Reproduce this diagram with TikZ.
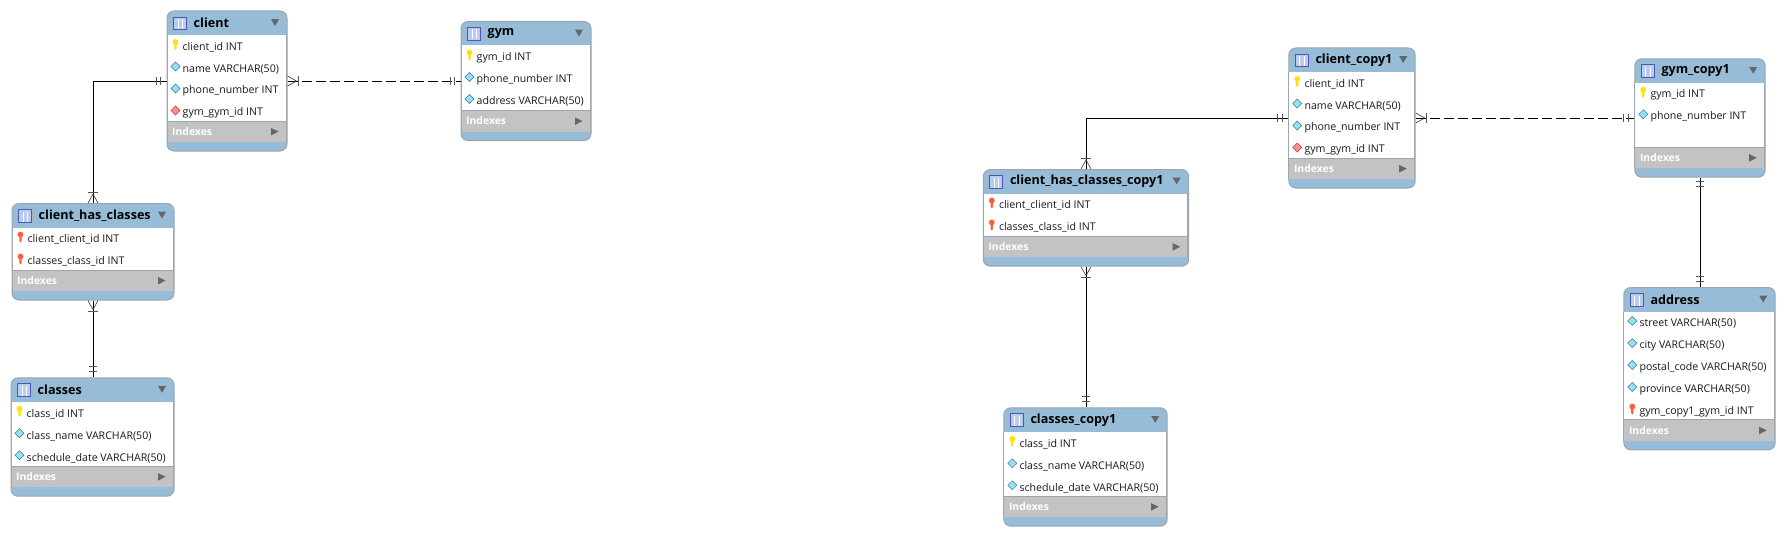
\documentclass[tikz,border=0pt]{standalone}
\usepackage{fontspec}
\setmainfont{Open Sans}
\usetikzlibrary{decorations.markings}
\definecolor{headblue}{HTML}{97BCD8}
\definecolor{bandgray}{HTML}{C3C3C3}
\definecolor{edgegray}{HTML}{9CA6AE}
\definecolor{markgray}{HTML}{555555}
\definecolor{iconblue}{HTML}{B9CBEE}
\definecolor{iconedge}{HTML}{4A58B0}
\tikzset{
    x=1pt, y=-1pt,
    tablebox/.style={draw=edgegray, line width=1pt, fill=headblue, rounded corners=7pt, inner sep=0pt},
    titletext/.style={anchor=west, inner sep=0pt, font=\fontsize{12.6}{14}\selectfont\bfseries, text=black},
    rowtext/.style={anchor=west, inner sep=0pt, font=\fontsize{10.6}{12}\selectfont, text=black!90},
    idxtext/.style={anchor=west, inner sep=0pt, font=\fontsize{10.4}{12}\selectfont\bfseries, text=white},
    pkey/.pic={
        \fill[yellow!85!orange] (0,-2.5) circle (2.9);
        \fill[yellow!85!orange] (-1.1,-2) -- (-1.1,4) -- (0,5.5) -- (1.1,4) -- (1.1,-2) -- cycle;
    },
    fkey/.pic={
        \fill[red!70!orange!75!white] (0,-2.5) circle (2.9);
        \fill[red!70!orange!75!white] (-1.1,-2) -- (-1.1,4) -- (0,5.5) -- (1.1,4) -- (1.1,-2) -- cycle;
    },
    attr/.pic={
        \draw[draw=teal!60!gray, fill=cyan!40!white, line width=.5pt] (-4.5,0) -- (0,-4.5) -- (4.5,0) -- (0,4.5) -- cycle;
    },
    fkattr/.pic={
        \draw[draw=red!50!gray, fill=red!45!white, line width=.5pt] (-4.5,0) -- (0,-4.5) -- (4.5,0) -- (0,4.5) -- cycle;
    },
    % crow's foot at the start, two bars at the end
    manyone/.style={postaction={decorate, decoration={markings,
        mark=at position 11pt with {
            \draw[solid, markgray, line width=1pt] (0,-5) -- (0,5);
            \draw[solid, black!80, line width=.6pt] (-11,-5) -- (-2,0) -- (-11,5);
        },
        mark=at position -10.5pt with {\draw[solid, markgray, line width=1pt] (0,-4) -- (0,4);},
        mark=at position -6pt with {\draw[solid, markgray, line width=1pt] (0,-4) -- (0,4);}
    }}},
    oneone/.style={postaction={decorate, decoration={markings,
        mark=at position 4pt with {\draw[solid, markgray, line width=1pt] (0,-4) -- (0,4);},
        mark=at position 8.5pt with {\draw[solid, markgray, line width=1pt] (0,-4) -- (0,4);},
        mark=at position -10.5pt with {\draw[solid, markgray, line width=1pt] (0,-4) -- (0,4);},
        mark=at position -6pt with {\draw[solid, markgray, line width=1pt] (0,-4) -- (0,4);}
    }}},
    reltext/.style={line width=.8pt},
    reldash/.style={dash pattern=on 10pt off 4pt}
}
% name, title, left, top, width, height, rows
\newcommand{\ertable}[7]{
    \node[tablebox, minimum width=#5pt, minimum height=#6pt, anchor=north west] (#1) at (#3,#4) {};
    \begin{scope}[shift={(#3,#4)}]
        \fill[white] (0.5,24.5) rectangle (#5-0.5,#6-29.5);
        \fill[bandgray] (0.5,#6-29.5) rectangle (#5-0.5,#6-8.5);
        \draw[edgegray, line width=.8pt] (0.5,#6-29.5) -- (#5-0.5,#6-29.5);
        \draw[edgegray, line width=.8pt] (0.5,24.5) -- (0.5,#6-8.5) (#5-0.5,24.5) -- (#5-0.5,#6-8.5);
        % table icon
        \fill[gray!60] (8,7.5) rectangle (21,20);
        \draw[draw=iconedge, fill=iconblue, line width=.8pt] (7,6.5) rectangle (20,19);
        \draw[white, line width=.5pt] (11.3,8.5) -- (11.3,18.5) (15.6,8.5) -- (15.6,18.5);
        \node[titletext] (#1-title) at (27,12.7) {#2};
        \fill[markgray!90] (#5-15.5,8.7) -- (#5-7.5,8.7) -- (#5-11.5,15.5) -- cycle;
        \foreach \ico/\txt [count=\i] in {#7} {
            \pic at (9,{12+22*\i}) {\ico};
            \node[rowtext] (#1-\i) at (16,{14.7+22*\i}) {\txt};
        }
        \node[idxtext] (#1-idx) at (5.5,#6-19) {Indexes};
        \fill[markgray!90] (#5-15.5,#6-22.5) -- (#5-8,#6-19) -- (#5-15.5,#6-15) -- cycle;
    \end{scope}
}
\begin{document}
\begin{tikzpicture}
    \useasboundingbox (0,0) rectangle (1784,535);
    % first schema
    \ertable{client}{client}{166.5}{10.5}{120}{140}{pkey/client\_id INT, attr/name VARCHAR(50), attr/phone\_number INT, fkattr/gym\_gym\_id INT}
    \ertable{gym}{gym}{460.5}{21}{130}{119}{pkey/gym\_id INT, attr/phone\_number INT, attr/address VARCHAR(50)}
    \ertable{hasclasses}{client\_has\_classes}{11.5}{203}{162}{96.5}{fkey/client\_client\_id INT, fkey/classes\_class\_id INT}
    \ertable{classes}{classes}{10.5}{377.3}{163}{118.4}{pkey/class\_id INT, attr/class\_name VARCHAR(50), attr/schedule\_date VARCHAR(50)}
    % second schema
    \ertable{clientcopy}{client\_copy1}{1288.3}{47.5}{126.4}{140}{pkey/client\_id INT, attr/name VARCHAR(50), attr/phone\_number INT, fkattr/gym\_gym\_id INT}
    \ertable{gymcopy}{gym\_copy1}{1634.3}{58.3}{130.4}{118.4}{pkey/gym\_id INT, attr/phone\_number INT}
    \ertable{hasclassescopy}{client\_has\_classes\_copy1}{982.8}{169}{205.4}{96.7}{fkey/client\_client\_id INT, fkey/classes\_class\_id INT}
    \ertable{classescopy}{classes\_copy1}{1003.3}{407.3}{163.4}{118.4}{pkey/class\_id INT, attr/class\_name VARCHAR(50), attr/schedule\_date VARCHAR(50)}
    \ertable{address}{address}{1623.3}{287}{151.4}{162.3}{attr/street VARCHAR(50), attr/city VARCHAR(50), attr/postal\_code VARCHAR(50), attr/province VARCHAR(50), fkey/gym\_copy1\_gym\_id INT}
    % relations
    \draw[reltext, manyone] (hasclasses.north) |- (client.west);
    \draw[reltext, reldash, manyone] (client.east) -- (client.east -| gym.west);
    \draw[reltext, manyone] (hasclasses.south) -- (hasclasses.south |- classes.north);
    \draw[reltext, manyone] (hasclassescopy.north) |- (clientcopy.west);
    \draw[reltext, reldash, manyone] (clientcopy.east) -- (clientcopy.east -| gymcopy.west);
    \draw[reltext, manyone] (hasclassescopy.south) -- (hasclassescopy.south |- classescopy.north);
    \draw[reltext, oneone] (gymcopy.south) -- (gymcopy.south |- address.north);
\end{tikzpicture}
\end{document}
